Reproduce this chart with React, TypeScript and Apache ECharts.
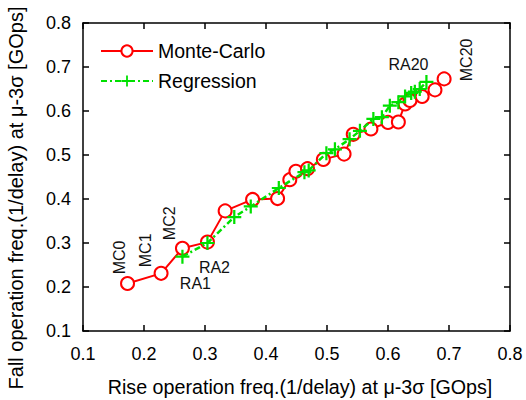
import React, { useEffect, useRef } from "react";
import * as echarts from "echarts";

const mcX = [0.173, 0.228, 0.263, 0.304, 0.333, 0.378, 0.419, 0.439, 0.449, 0.468, 0.494, 0.528, 0.543, 0.572, 0.600, 0.617, 0.628, 0.636, 0.656, 0.677, 0.692];
const mcY = [0.208, 0.231, 0.288, 0.302, 0.373, 0.399, 0.401, 0.444, 0.463, 0.469, 0.490, 0.502, 0.547, 0.559, 0.574, 0.575, 0.616, 0.624, 0.633, 0.648, 0.673];
const raX = [0.263, 0.304, 0.348, 0.375, 0.421, 0.463, 0.470, 0.499, 0.513, 0.537, 0.554, 0.576, 0.590, 0.603, 0.617, 0.628, 0.638, 0.644, 0.652, 0.663];
const raY = [0.269, 0.300, 0.359, 0.383, 0.425, 0.461, 0.465, 0.504, 0.513, 0.536, 0.555, 0.582, 0.586, 0.612, 0.620, 0.633, 0.641, 0.644, 0.650, 0.666];
const ticks = [0.1, 0.2, 0.3, 0.4, 0.5, 0.6, 0.7, 0.8];

const seriesNames = ["Monte-Carlo", "Regression"];
const xTitle = "Rise operation freq.(1/delay) at \u03bc-3\u03c3 [GOps]";
const yTitle = "Fall operation freq.(1/delay) at \u03bc-3\u03c3 [GOps]";

// annotation texts by point index
const mcNotes: [number, string][] = [[0, "MC0"], [1, "MC1"], [2, "MC2"], [20, "MC20"]];
const raNotes: [number, string][] = [[0, "RA1"], [1, "RA2"], [19, "RA20"]];

// label placement (style, not data); screen-space offsets of label centre from point
const notePlacement: Record<string, { offset: [number, number]; rotate: number }> = {
  MC0: { offset: [-8, -26], rotate: 90 },
  MC1: { offset: [-16, -23], rotate: 90 },
  MC2: { offset: [-13, -25], rotate: 90 },
  MC20: { offset: [22, -19], rotate: 90 },
  RA1: { offset: [13, 27], rotate: 0 },
  RA2: { offset: [7, 24], rotate: 0 },
  RA20: { offset: [-18, -17], rotate: 0 },
};

const FONT = "Liberation Sans, Arial, Helvetica, sans-serif";
const PLUS = "path://M4.2,0 H5.8 V4.2 H10 V5.8 H5.8 V10 H4.2 V5.8 H0 V4.2 H4.2 Z";

function buildData(xs: number[], ys: number[], notes: [number, string][]) {
  return xs.map((x, i) => {
    const note = notes.find((n) => n[0] === i);
    if (!note) return [x, ys[i]];
    const p = notePlacement[note[1]];
    // label offset is applied in the rotated frame; convert screen offset
    const off: [number, number] =
      p.rotate === 90 ? [-p.offset[1], p.offset[0]] : p.offset;
    return {
      value: [x, ys[i]],
      label: {
        show: true,
        position: "inside",
        formatter: note[1],
        rotate: p.rotate,
        offset: off,
        color: "#111",
        fontSize: 16,
        fontFamily: FONT,
      },
    };
  });
}

export default function App() {
  const ref = useRef<HTMLDivElement>(null);
  useEffect(() => {
    if (!ref.current) return;
    const chart = echarts.init(ref.current, undefined, { renderer: "svg" });
    const axisCommon = {
      type: "value" as const,
      min: ticks[0],
      max: ticks[ticks.length - 1],
      interval: 0.1,
      axisLine: { show: true, onZero: false, lineStyle: { color: "#000", width: 1.5 } },
      axisTick: { show: true, inside: true, length: 6, lineStyle: { color: "#000", width: 1.5 } },
      splitLine: { show: false },
    };
    const labelStyle = {
      color: "#000",
      fontSize: 18,
      fontFamily: FONT,
      formatter: (v: number) => v.toFixed(1),
    };
    chart.setOption({
      animation: false,
      backgroundColor: "#fff",
      grid: { left: 83, right: 16, top: 23, bottom: 69, containLabel: false, outerBoundsMode: "none" },
      legend: {
        orient: "vertical",
        left: 100,
        top: 41,
        padding: 0,
        itemWidth: 52,
        itemHeight: 14,
        itemGap: 10,
        textStyle: { fontSize: 19.5, fontFamily: FONT, color: "#000" },
        data: seriesNames,
      },
      graphic: [
        {
          type: "text",
          x: 300,
          y: 387,
          silent: true,
          style: {
            text: xTitle,
            fill: "#000",
            font: `19.7px ${FONT}`,
            textAlign: "center",
            textVerticalAlign: "middle",
          },
        },
        {
          type: "text",
          x: 16,
          y: 198,
          rotation: Math.PI / 2,
          silent: true,
          style: {
            text: yTitle,
            fill: "#000",
            font: `20px ${FONT}`,
            textAlign: "center",
            textVerticalAlign: "middle",
          },
        },
      ],
      xAxis: [
        {
          ...axisCommon,
          position: "bottom",
          axisLabel: { ...labelStyle, margin: 14 },
        },
        { ...axisCommon, position: "top", axisLabel: { show: false } },
      ],
      yAxis: [
        {
          ...axisCommon,
          position: "left",
          axisLabel: { ...labelStyle, margin: 12 },
        },
        { ...axisCommon, position: "right", axisLabel: { show: false } },
      ],
      series: [
        {
          name: seriesNames[0],
          type: "line",
          data: buildData(mcX, mcY, mcNotes),
          symbol: "emptyCircle",
          symbolSize: 13,
          itemStyle: { color: "#ff0000", borderColor: "#ff0000", borderWidth: 2 },
          lineStyle: { color: "#ff0000", width: 2 },
          z: 2,
        },
        {
          name: seriesNames[1],
          type: "line",
          data: buildData(raX, raY, raNotes),
          symbol: PLUS,
          symbolSize: 14,
          itemStyle: { color: "#00e000", borderWidth: 0 },
          lineStyle: { color: "#00e000", width: 2.5, type: [6, 3, 2, 3] },
          z: 3,
        },
      ],
    });
    return () => chart.dispose();
  }, []);
  return (
    <div
      ref={ref}
      style={{ position: "fixed", left: 0, top: 0, width: 526, height: 400 }}
    />
  );
}
